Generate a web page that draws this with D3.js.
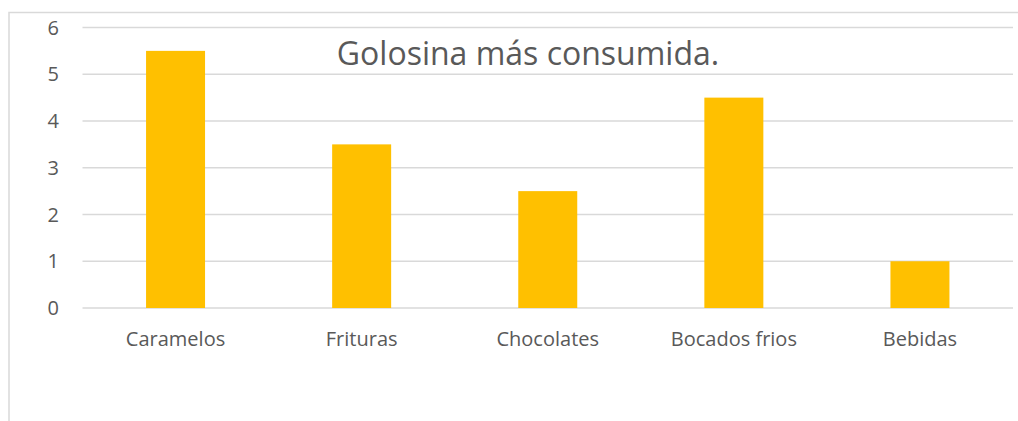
<!DOCTYPE html>
<html>
<head>
<meta charset="utf-8">
<script src="https://cdn.jsdelivr.net/npm/d3@7"></script>
<style>
  body { margin: 0; background: #fff; }
  text { font-family: "Open Sans", sans-serif; fill: #595959; }
</style>
</head>
<body>
<svg id="chart" width="1018" height="421"></svg>
<script>
"use strict";

// Data
const categories = ["Caramelos", "Frituras", "Chocolates", "Bocados frios", "Bebidas"];
const values = [5.5, 3.5, 2.5, 4.5, 1];
const yTicks = [0, 1, 2, 3, 4, 5, 6];
const title = "Golosina más consumida.";

const svg = d3.select("#chart");
const width = +svg.attr("width"),
  height = +svg.attr("height");

const margin = { top: 27.5, right: 5, bottom: 113, left: 82.5 };

// chart frame (left + top border)
svg.append("path")
  .attr("d", "M9,421V12.5H1018")
  .attr("fill", "none")
  .attr("stroke", "#d9d9d9")
  .attr("stroke-width", 1.5);

const x = d3.scaleBand()
  .domain(categories)
  .range([margin.left, width - margin.right])
  .paddingInner(0.683)
  .paddingOuter(0.3415);

const y = d3.scaleLinear()
  .domain([0, 6])
  .range([height - margin.bottom, margin.top]);

// gridlines
svg.append("g")
  .selectAll("line")
  .data(yTicks)
  .join("line")
  .attr("x1", margin.left)
  .attr("x2", width - margin.right)
  .attr("y1", d => y(d))
  .attr("y2", d => y(d))
  .attr("stroke", "#d9d9d9")
  .attr("stroke-width", 1.3);

// y labels
svg.append("g")
  .selectAll("text")
  .data(yTicks)
  .join("text")
  .attr("x", 59)
  .attr("y", d => y(d))
  .attr("dy", "0.36em")
  .attr("text-anchor", "end")
  .style("font-size", "20px")
  .text(d => d);

// bars
svg.append("g")
  .selectAll("rect")
  .data(values)
  .join("rect")
  .attr("x", (d, i) => x(categories[i]))
  .attr("width", x.bandwidth())
  .attr("y", d => y(d))
  .attr("height", d => y(0) - y(d))
  .attr("fill", "#ffc000");

// category labels
svg.append("g")
  .selectAll("text")
  .data(categories)
  .join("text")
  .attr("x", d => x(d) + x.bandwidth() / 2)
  .attr("y", 346)
  .attr("text-anchor", "middle")
  .style("font-size", "20px")
  .text(d => d);

// title
svg.append("text")
  .attr("x", 528)
  .attr("y", 65)
  .attr("text-anchor", "middle")
  .style("font-size", "32px")
  .text(title);
</script>
</body>
</html>
